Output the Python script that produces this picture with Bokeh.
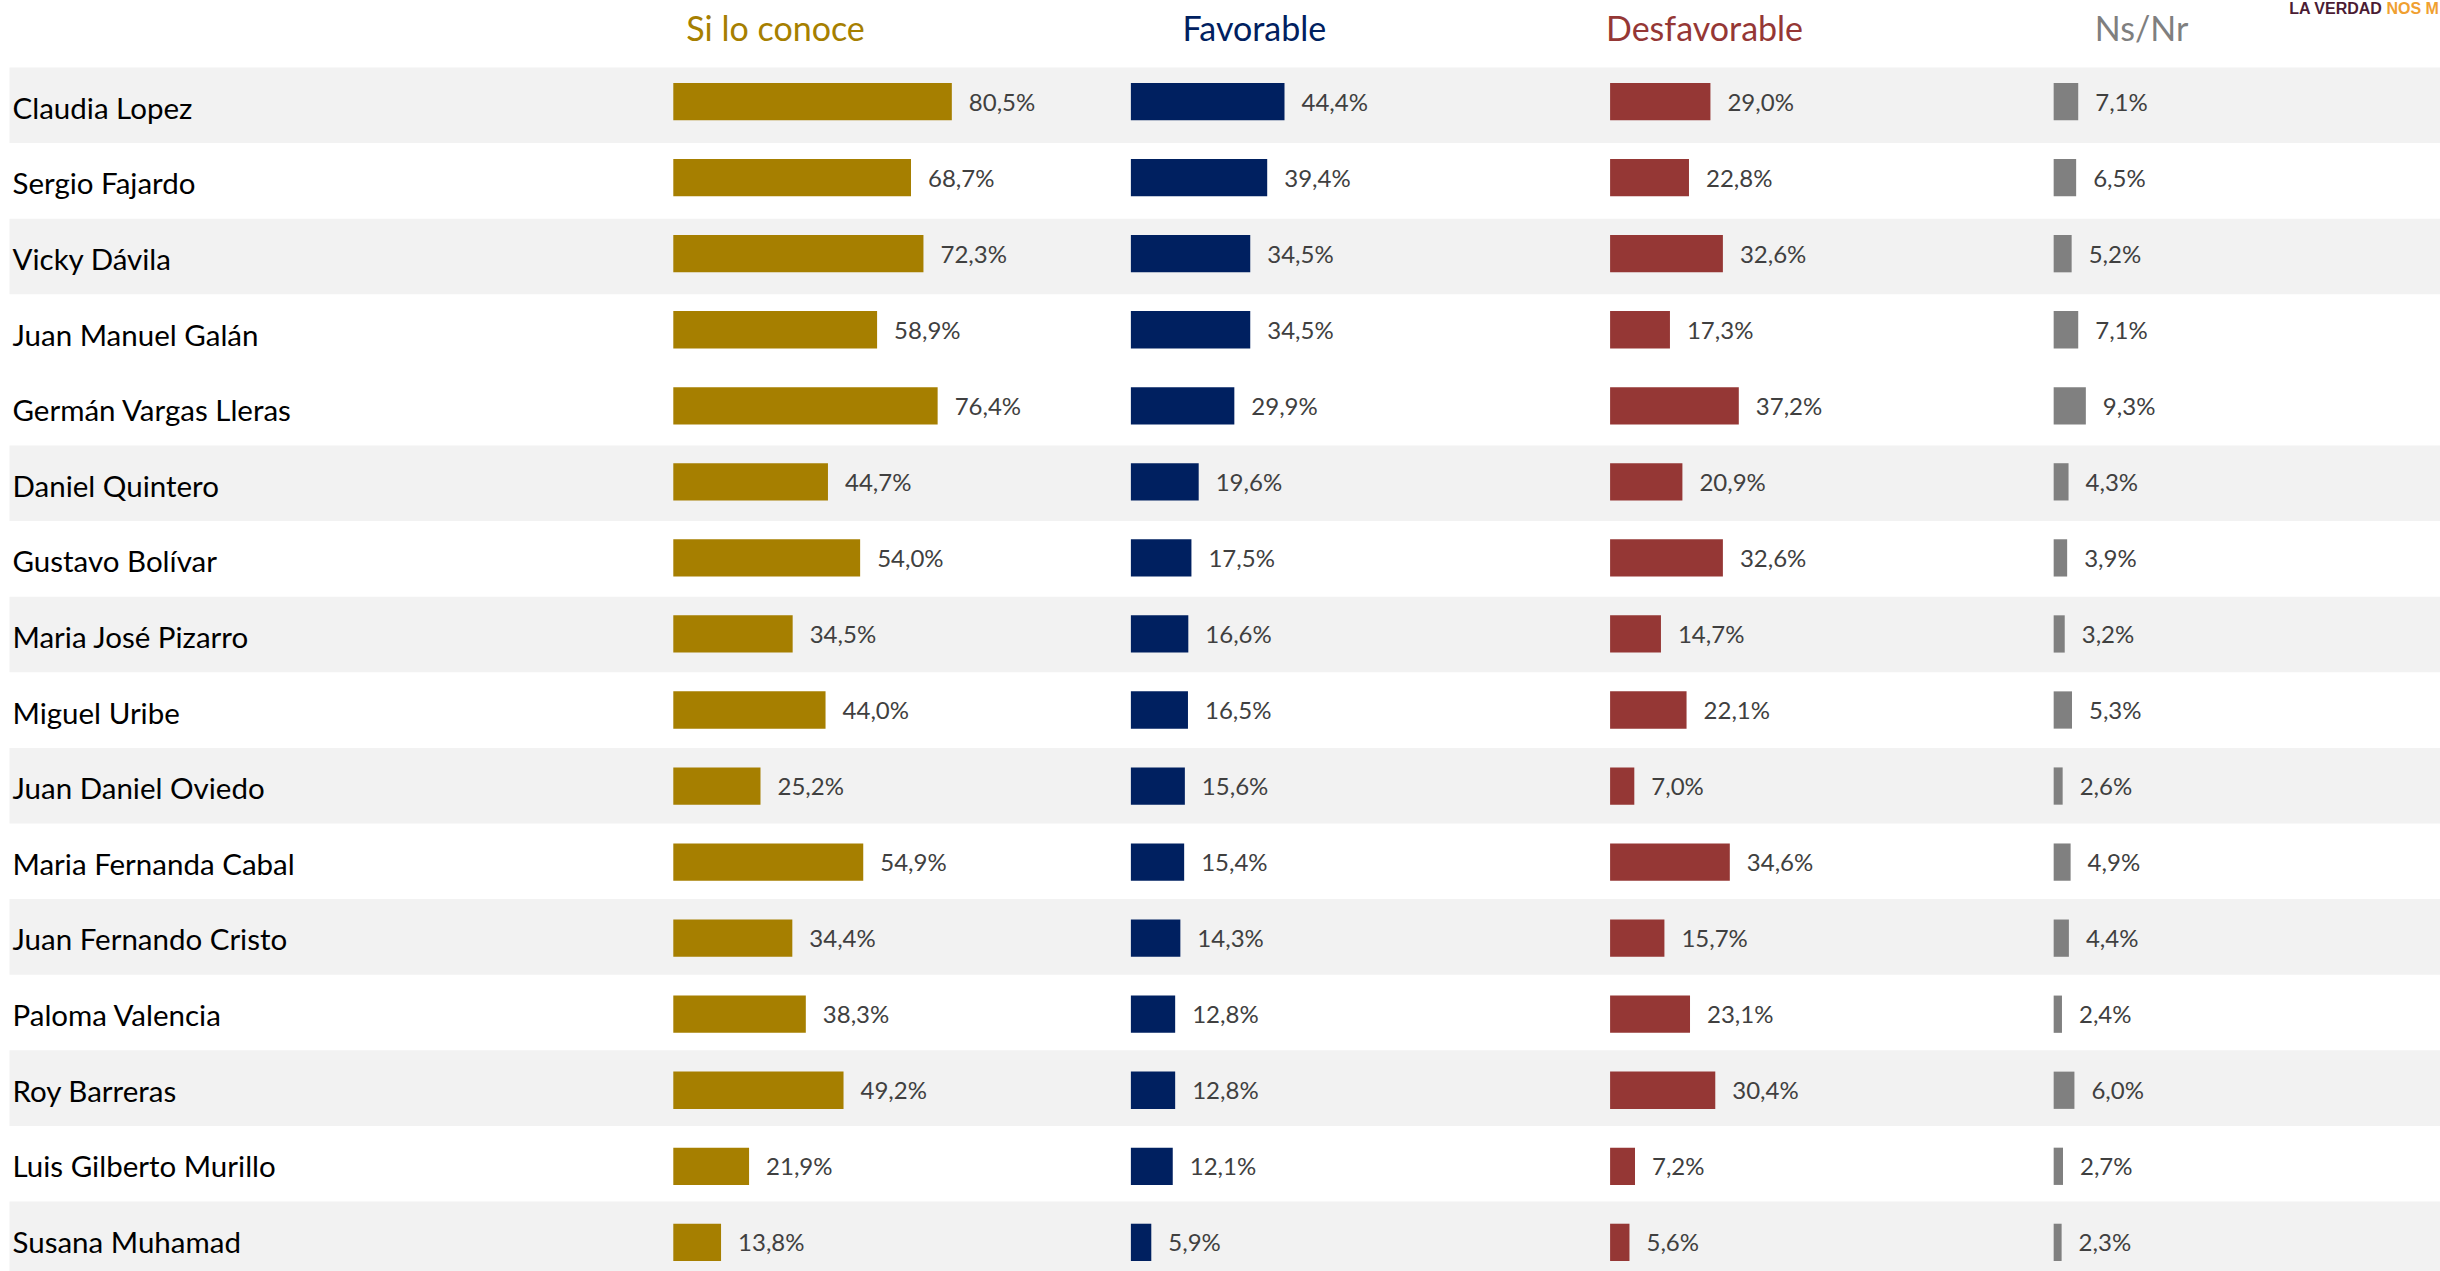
from bokeh.plotting import figure
from bokeh.models import ColumnDataSource, Range1d
from bokeh.transform import dodge
from bokeh.core.properties import value
from bokeh.embed import file_html
from bokeh.resources import INLINE

# ---------------- data ----------------
names = ["Claudia Lopez", "Sergio Fajardo", "Vicky Dávila", "Juan Manuel Galán",
         "Germán Vargas Lleras", "Daniel Quintero", "Gustavo Bolívar",
         "Maria José Pizarro", "Miguel Uribe", "Juan Daniel Oviedo",
         "Maria Fernanda Cabal", "Juan Fernando Cristo", "Paloma Valencia",
         "Roy Barreras", "Luis Gilberto Murillo", "Susana Muhamad"]
conoce = [80.5, 68.7, 72.3, 58.9, 76.4, 44.7, 54.0, 34.5, 44.0, 25.2, 54.9, 34.4, 38.3, 49.2, 21.9, 13.8]
favorable = [44.4, 39.4, 34.5, 34.5, 29.9, 19.6, 17.5, 16.6, 16.5, 15.6, 15.4, 14.3, 12.8, 12.8, 12.1, 5.9]
desfavorable = [29.0, 22.8, 32.6, 17.3, 37.2, 20.9, 32.6, 14.7, 22.1, 7.0, 34.6, 15.7, 23.1, 30.4, 7.2, 5.6]
nsnr = [7.1, 6.5, 5.2, 7.1, 9.3, 4.3, 3.9, 3.2, 5.3, 2.6, 4.9, 4.4, 2.4, 6.0, 2.7, 2.3]
series_titles = ["Si lo conoce", "Favorable", "Desfavorable", "Ns/Nr"]
shaded_rows = [0, 2, 5, 7, 9, 11, 13, 15]
logo_a = "LA VERDAD"
logo_b = "NOS M"

# ---------------- layout ----------------
W, H = 2440, 1271
PX_PER_PCT = 3.46
ROW_PX = 75.6          # spacing of the row bands / names
ROW0_PX = 104.8
BAR_ROW_PX = 76.05     # spacing of the bars / value labels
BAR0_PX = 101.1
x_end = W / PX_PER_PCT
y_top = -ROW0_PX / ROW_PX
y_bot = (H - ROW0_PX) / ROW_PX

offsets = [194.45, 326.7, 465.2, 593.4]
header_x = [224.0, 362.4, 492.5, 618.8]
colors = ["#A67F00", "#002060", "#953735", "#808080"]
header_colors = ["#A67F00", "#002060", "#953735", "#7F7F7F"]


def fmt(v):
    return f"{v:.1f}".replace(".", ",") + "%"


rows = list(range(len(names)))
src = ColumnDataSource(dict(
    row=rows, name=names,
    s0=conoce, s1=favorable, s2=desfavorable, s3=nsnr,
    l0=[fmt(v) for v in conoce], l1=[fmt(v) for v in favorable],
    l2=[fmt(v) for v in desfavorable], l3=[fmt(v) for v in nsnr],
))

p = figure(width=W, height=H, x_range=Range1d(0, x_end), y_range=Range1d(y_bot, y_top),
           x_axis_type=None, y_axis_type=None, output_backend="svg",
           toolbar_location=None, min_border=0, outline_line_color=None,
           background_fill_color="white", border_fill_color="white")
p.grid.visible = False
p.extra_y_ranges = {"bars": Range1d(-BAR0_PX / BAR_ROW_PX + H / BAR_ROW_PX,
                                    -BAR0_PX / BAR_ROW_PX)}

# row shading
p.hbar(y=shaded_rows, left=9 / PX_PER_PCT, right=x_end, height=1.0,
       fill_color="#F2F2F2", line_color=None)

# bars + labels
for k in range(4):
    p.hbar(y="row", left=offsets[k], right=dodge(f"s{k}", offsets[k]), height=0.49,
           fill_color=colors[k], line_color=None, source=src, y_range_name="bars")
    p.text(x=dodge(f"s{k}", offsets[k]), y="row", text=f"l{k}", source=src,
           x_offset=17, y_offset=-0.5, text_baseline="alphabetic", text_align="left",
           text_font=value("Lato"), text_font_size="24px", text_color="#404040",
           y_range_name="bars")

# names
p.text(x=12 / PX_PER_PCT, y="row", text="name", source=src, y_offset=2.0,
       text_baseline="alphabetic", text_align="left",
       text_font=value("Lato"), text_font_size="29.5px", text_color="#000000")

# headers
hdr = ColumnDataSource(dict(x=header_x, y=[y_top + 27 / ROW_PX] * 4,
                            t=series_titles, c=header_colors))
p.text(x="x", y="y", text="t", text_color="c", source=hdr,
       text_align="center", text_baseline="alphabetic",
       text_font=value("Lato"), text_font_size="34px")

# logo
logo_y = y_top + 8 / ROW_PX
p.text(x=[2382 / PX_PER_PCT], y=[logo_y], text=[logo_a], text_align="right",
       text_baseline="alphabetic", text_font=value("Liberation Sans"),
       text_font_style="bold", text_font_size="16px", text_color="#4B1C34")
p.text(x=[2386 / PX_PER_PCT], y=[logo_y], text=[logo_b], text_align="left",
       text_baseline="alphabetic", text_font=value("Liberation Sans"),
       text_font_style="bold", text_font_size="16px", text_color="#F0A030")

open("out.html", "w").write(file_html(p, INLINE))
